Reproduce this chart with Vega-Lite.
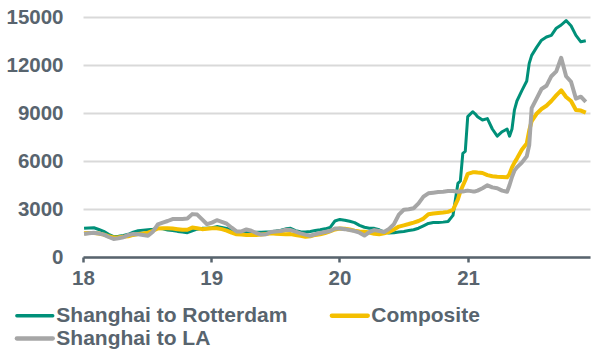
{
  "$schema": "https://vega.github.io/schema/vega-lite/v6.json",
  "width": 507,
  "height": 240,
  "autosize": {"type": "none"},
  "padding": {"left": 83, "top": 17, "right": 2, "bottom": 93},
  "background": "white",
  "config": {"view": {"stroke": null}, "font": "Liberation Sans"},
  "datasets": {
    "rotterdam": [
      {"d":"2018-01-04","v":1790},{"d":"2018-01-18","v":1810},{"d":"2018-02-01","v":1830},{"d":"2018-02-15","v":1720},
      {"d":"2018-03-01","v":1600},{"d":"2018-03-15","v":1420},{"d":"2018-03-29","v":1270},{"d":"2018-04-12","v":1300},
      {"d":"2018-04-26","v":1350},{"d":"2018-05-10","v":1420},{"d":"2018-05-24","v":1550},{"d":"2018-06-07","v":1640},
      {"d":"2018-06-21","v":1680},{"d":"2018-07-05","v":1710},{"d":"2018-07-19","v":1740},{"d":"2018-08-02","v":1790},
      {"d":"2018-08-16","v":1760},{"d":"2018-08-30","v":1690},{"d":"2018-09-13","v":1660},{"d":"2018-09-27","v":1600},
      {"d":"2018-10-11","v":1560},{"d":"2018-10-25","v":1520},{"d":"2018-11-08","v":1640},{"d":"2018-11-22","v":1740},
      {"d":"2018-12-06","v":1790},{"d":"2018-12-20","v":1790},
      {"d":"2019-01-03","v":1830},{"d":"2019-01-17","v":1900},{"d":"2019-01-31","v":1850},{"d":"2019-02-14","v":1780},
      {"d":"2019-02-28","v":1690},{"d":"2019-03-14","v":1560},{"d":"2019-03-28","v":1540},{"d":"2019-04-11","v":1560},
      {"d":"2019-04-25","v":1520},{"d":"2019-05-09","v":1540},{"d":"2019-05-23","v":1540},{"d":"2019-06-06","v":1560},
      {"d":"2019-06-20","v":1580},{"d":"2019-07-04","v":1620},{"d":"2019-07-18","v":1680},{"d":"2019-08-01","v":1760},
      {"d":"2019-08-15","v":1790},{"d":"2019-08-29","v":1650},{"d":"2019-09-12","v":1580},{"d":"2019-09-26","v":1560},
      {"d":"2019-10-10","v":1600},{"d":"2019-10-24","v":1650},{"d":"2019-11-07","v":1700},{"d":"2019-11-21","v":1760},
      {"d":"2019-12-05","v":1840},{"d":"2019-12-19","v":2250},
      {"d":"2020-01-02","v":2350},{"d":"2020-01-16","v":2300},{"d":"2020-01-30","v":2230},{"d":"2020-02-13","v":2150},
      {"d":"2020-02-27","v":1980},{"d":"2020-03-12","v":1860},{"d":"2020-03-26","v":1800},{"d":"2020-04-09","v":1790},
      {"d":"2020-04-23","v":1700},{"d":"2020-05-07","v":1560},{"d":"2020-05-21","v":1500},{"d":"2020-06-04","v":1520},
      {"d":"2020-06-18","v":1560},{"d":"2020-07-02","v":1600},{"d":"2020-07-16","v":1650},{"d":"2020-07-30","v":1700},
      {"d":"2020-08-13","v":1800},{"d":"2020-08-27","v":1950},{"d":"2020-09-10","v":2100},{"d":"2020-09-24","v":2150},
      {"d":"2020-10-08","v":2150},{"d":"2020-10-22","v":2180},{"d":"2020-11-05","v":2220},{"d":"2020-11-19","v":2600},
      {"d":"2020-12-03","v":4600},{"d":"2020-12-10","v":4750},{"d":"2020-12-17","v":6480},{"d":"2020-12-24","v":6600},
      {"d":"2020-12-31","v":8770},
      {"d":"2021-01-14","v":9080},{"d":"2021-01-21","v":8950},{"d":"2021-01-28","v":8770},{"d":"2021-02-11","v":8560},
      {"d":"2021-02-25","v":8650},{"d":"2021-03-11","v":8000},{"d":"2021-03-25","v":7550},{"d":"2021-04-08","v":7830},
      {"d":"2021-04-22","v":8000},{"d":"2021-04-29","v":7550},{"d":"2021-05-06","v":8000},{"d":"2021-05-13","v":9200},
      {"d":"2021-05-20","v":9750},{"d":"2021-06-03","v":10400},{"d":"2021-06-17","v":11000},{"d":"2021-06-24","v":12100},
      {"d":"2021-07-01","v":12600},{"d":"2021-07-15","v":13100},{"d":"2021-07-29","v":13550},{"d":"2021-08-12","v":13750},
      {"d":"2021-08-26","v":13850},{"d":"2021-09-09","v":14300},{"d":"2021-09-23","v":14500},{"d":"2021-10-07","v":14780},
      {"d":"2021-10-21","v":14450},{"d":"2021-11-04","v":13850},{"d":"2021-11-18","v":13450},{"d":"2021-12-02","v":13520}
    ],
    "composite": [
      {"d":"2018-01-04","v":1480},{"d":"2018-01-18","v":1500},{"d":"2018-02-01","v":1500},{"d":"2018-02-15","v":1470},
      {"d":"2018-03-01","v":1400},{"d":"2018-03-15","v":1300},{"d":"2018-03-29","v":1220},{"d":"2018-04-12","v":1230},
      {"d":"2018-04-26","v":1270},{"d":"2018-05-10","v":1300},{"d":"2018-05-24","v":1380},{"d":"2018-06-07","v":1440},
      {"d":"2018-06-21","v":1470},{"d":"2018-07-05","v":1520},{"d":"2018-07-19","v":1640},{"d":"2018-08-02","v":1780},
      {"d":"2018-08-16","v":1790},{"d":"2018-08-30","v":1790},{"d":"2018-09-13","v":1780},{"d":"2018-09-27","v":1740},
      {"d":"2018-10-11","v":1700},{"d":"2018-10-25","v":1700},{"d":"2018-11-08","v":1840},{"d":"2018-11-22","v":1800},
      {"d":"2018-12-06","v":1740},{"d":"2018-12-20","v":1760},
      {"d":"2019-01-03","v":1790},{"d":"2019-01-17","v":1800},{"d":"2019-01-31","v":1740},{"d":"2019-02-14","v":1650},
      {"d":"2019-02-28","v":1520},{"d":"2019-03-14","v":1420},{"d":"2019-03-28","v":1400},{"d":"2019-04-11","v":1380},
      {"d":"2019-04-25","v":1380},{"d":"2019-05-09","v":1380},{"d":"2019-05-23","v":1400},{"d":"2019-06-06","v":1440},
      {"d":"2019-06-20","v":1480},{"d":"2019-07-04","v":1460},{"d":"2019-07-18","v":1440},{"d":"2019-08-01","v":1420},
      {"d":"2019-08-15","v":1430},{"d":"2019-08-29","v":1380},{"d":"2019-09-12","v":1320},{"d":"2019-09-26","v":1270},
      {"d":"2019-10-10","v":1300},{"d":"2019-10-24","v":1380},{"d":"2019-11-07","v":1420},{"d":"2019-11-21","v":1500},
      {"d":"2019-12-05","v":1600},{"d":"2019-12-19","v":1720},
      {"d":"2020-01-02","v":1780},{"d":"2020-01-16","v":1760},{"d":"2020-01-30","v":1720},{"d":"2020-02-13","v":1650},
      {"d":"2020-02-27","v":1600},{"d":"2020-03-12","v":1580},{"d":"2020-03-26","v":1530},{"d":"2020-04-09","v":1450},
      {"d":"2020-04-23","v":1420},{"d":"2020-05-07","v":1480},{"d":"2020-05-21","v":1560},{"d":"2020-06-04","v":1720},
      {"d":"2020-06-18","v":1900},{"d":"2020-07-02","v":1980},{"d":"2020-07-16","v":2060},{"d":"2020-07-30","v":2150},
      {"d":"2020-08-13","v":2250},{"d":"2020-08-27","v":2400},{"d":"2020-09-10","v":2670},{"d":"2020-09-24","v":2720},
      {"d":"2020-10-08","v":2750},{"d":"2020-10-22","v":2780},{"d":"2020-11-05","v":2820},{"d":"2020-11-19","v":2940},
      {"d":"2020-12-03","v":3600},{"d":"2020-12-10","v":4100},{"d":"2020-12-17","v":4450},{"d":"2020-12-24","v":4800},
      {"d":"2020-12-31","v":5200},
      {"d":"2021-01-14","v":5290},{"d":"2021-01-21","v":5300},{"d":"2021-01-28","v":5280},{"d":"2021-02-11","v":5250},
      {"d":"2021-02-25","v":5120},{"d":"2021-03-11","v":5050},{"d":"2021-03-25","v":5020},{"d":"2021-04-08","v":5000},
      {"d":"2021-04-22","v":4980},{"d":"2021-04-29","v":5200},{"d":"2021-05-06","v":5600},{"d":"2021-05-13","v":5900},
      {"d":"2021-05-20","v":6150},{"d":"2021-06-03","v":6700},{"d":"2021-06-17","v":7100},{"d":"2021-06-24","v":7900},
      {"d":"2021-07-01","v":8500},{"d":"2021-07-15","v":8950},{"d":"2021-07-29","v":9250},{"d":"2021-08-12","v":9450},
      {"d":"2021-08-26","v":9750},{"d":"2021-09-09","v":10100},{"d":"2021-09-23","v":10420},{"d":"2021-10-07","v":10000},
      {"d":"2021-10-21","v":9750},{"d":"2021-11-04","v":9190},{"d":"2021-11-18","v":9150},{"d":"2021-12-02","v":9020}
    ],
    "la": [
      {"d":"2018-01-04","v":1440},{"d":"2018-01-18","v":1480},{"d":"2018-02-01","v":1520},{"d":"2018-02-15","v":1470},
      {"d":"2018-03-01","v":1400},{"d":"2018-03-15","v":1250},{"d":"2018-03-29","v":1130},{"d":"2018-04-12","v":1170},
      {"d":"2018-04-26","v":1230},{"d":"2018-05-10","v":1380},{"d":"2018-05-24","v":1440},{"d":"2018-06-07","v":1420},
      {"d":"2018-06-21","v":1380},{"d":"2018-07-05","v":1330},{"d":"2018-07-19","v":1580},{"d":"2018-08-02","v":2040},
      {"d":"2018-08-16","v":2150},{"d":"2018-08-30","v":2250},{"d":"2018-09-13","v":2370},{"d":"2018-09-27","v":2380},
      {"d":"2018-10-11","v":2380},{"d":"2018-10-25","v":2400},{"d":"2018-11-08","v":2680},{"d":"2018-11-22","v":2650},
      {"d":"2018-12-06","v":2350},{"d":"2018-12-20","v":2050},
      {"d":"2019-01-03","v":2150},{"d":"2019-01-17","v":2300},{"d":"2019-01-31","v":2200},{"d":"2019-02-14","v":2080},
      {"d":"2019-02-28","v":1830},{"d":"2019-03-14","v":1600},{"d":"2019-03-28","v":1600},{"d":"2019-04-11","v":1720},
      {"d":"2019-04-25","v":1640},{"d":"2019-05-09","v":1500},{"d":"2019-05-23","v":1400},{"d":"2019-06-06","v":1420},
      {"d":"2019-06-20","v":1560},{"d":"2019-07-04","v":1600},{"d":"2019-07-18","v":1620},{"d":"2019-08-01","v":1700},
      {"d":"2019-08-15","v":1680},{"d":"2019-08-29","v":1580},{"d":"2019-09-12","v":1480},{"d":"2019-09-26","v":1400},
      {"d":"2019-10-10","v":1330},{"d":"2019-10-24","v":1420},{"d":"2019-11-07","v":1500},{"d":"2019-11-21","v":1560},
      {"d":"2019-12-05","v":1620},{"d":"2019-12-19","v":1780},
      {"d":"2020-01-02","v":1780},{"d":"2020-01-16","v":1740},{"d":"2020-01-30","v":1680},{"d":"2020-02-13","v":1620},
      {"d":"2020-02-27","v":1520},{"d":"2020-03-12","v":1340},{"d":"2020-03-26","v":1560},{"d":"2020-04-09","v":1680},
      {"d":"2020-04-23","v":1620},{"d":"2020-05-07","v":1560},{"d":"2020-05-21","v":1760},{"d":"2020-06-04","v":2050},
      {"d":"2020-06-18","v":2650},{"d":"2020-07-02","v":2950},{"d":"2020-07-16","v":2980},{"d":"2020-07-30","v":3050},
      {"d":"2020-08-13","v":3350},{"d":"2020-08-27","v":3770},{"d":"2020-09-10","v":3980},{"d":"2020-09-24","v":4020},
      {"d":"2020-10-08","v":4060},{"d":"2020-10-22","v":4080},{"d":"2020-11-05","v":4120},{"d":"2020-11-19","v":4130},
      {"d":"2020-12-03","v":4080},{"d":"2020-12-10","v":4100},{"d":"2020-12-17","v":4100},{"d":"2020-12-24","v":4120},
      {"d":"2020-12-31","v":4150},
      {"d":"2021-01-14","v":4100},{"d":"2021-01-21","v":4100},{"d":"2021-01-28","v":4150},{"d":"2021-02-11","v":4300},
      {"d":"2021-02-25","v":4480},{"d":"2021-03-11","v":4350},{"d":"2021-03-25","v":4300},{"d":"2021-04-08","v":4150},
      {"d":"2021-04-22","v":4080},{"d":"2021-04-29","v":4500},{"d":"2021-05-06","v":5000},{"d":"2021-05-13","v":5400},
      {"d":"2021-05-20","v":5600},{"d":"2021-06-03","v":5900},{"d":"2021-06-17","v":6300},{"d":"2021-06-24","v":7000},
      {"d":"2021-07-01","v":9300},{"d":"2021-07-15","v":9900},{"d":"2021-07-29","v":10500},{"d":"2021-08-12","v":10700},
      {"d":"2021-08-26","v":11300},{"d":"2021-09-09","v":11600},{"d":"2021-09-23","v":12450},{"d":"2021-10-07","v":11300},
      {"d":"2021-10-21","v":10950},{"d":"2021-11-04","v":9900},{"d":"2021-11-18","v":10020},{"d":"2021-12-02","v":9700}
    ]
  },
  "encoding": {
    "x": {
      "field": "d",
      "type": "temporal",
      "scale": {
        "type": "utc",
        "nice": false,
        "domain": [
          {"year": 2018, "month": 1, "date": 1, "utc": true},
          {"year": 2021, "month": 12, "date": 14, "utc": true}
        ]
      },
      "axis": {
        "title": null,
        "grid": false,
        "values": [
          {"year": 2018, "month": 1, "date": 1, "utc": true},
          {"year": 2019, "month": 1, "date": 1, "utc": true},
          {"year": 2020, "month": 1, "date": 1, "utc": true},
          {"year": 2021, "month": 1, "date": 1, "utc": true}
        ],
        "labelExpr": "utcFormat(datum.value, '%y')",
        "labelFlush": false,
        "labelOverlap": false,
        "domainColor": "#58646E",
        "domainWidth": 2.5,
        "tickColor": "#58646E",
        "tickWidth": 2.5,
        "tickSize": 5,
        "labelFont": "Liberation Sans",
        "labelFontWeight": "bold",
        "labelFontSize": 20.5,
        "labelColor": "#58646E",
        "labelPadding": 6
      }
    },
    "y": {
      "field": "v",
      "type": "quantitative",
      "scale": {"domain": [0, 15000], "nice": false},
      "axis": {
        "title": null,
        "values": [0, 3000, 6000, 9000, 12000, 15000],
        "format": "d",
        "domain": false,
        "ticks": false,
        "tickSize": 0,
        "grid": true,
        "gridColor": "#D9D9D9",
        "gridWidth": 2,
        "labelFont": "Liberation Sans",
        "labelFontWeight": "bold",
        "labelFontSize": 20.5,
        "labelColor": "#58646E",
        "labelPadding": 20
      }
    }
  },
  "layer": [
    {
      "data": {"name": "rotterdam"},
      "mark": {"type": "line", "strokeWidth": 3, "strokeJoin": "round"},
      "encoding": {
        "color": {
          "datum": "Shanghai to Rotterdam",
          "type": "nominal",
          "scale": {
            "domain": ["Shanghai to Rotterdam", "Composite", "Shanghai to LA"],
            "range": ["#009079", "#F4BF00", "#A6A6A6"]
          },
          "legend": {
            "title": null,
            "orient": "none",
            "legendX": -58.7,
            "legendY": 288,
            "direction": "horizontal",
            "columns": 2,
            "columnPadding": 34,
            "rowPadding": 1,
            "symbolType": "M-1.8,0H1.8",
            "symbolSize": 400,
            "symbolStrokeWidth": 4,
            "labelOffset": 11,
            "labelLimit": 400,
            "labelFont": "Liberation Sans",
            "labelFontWeight": "bold",
            "labelFontSize": 21,
            "labelColor": "#58646E",
            "encode": {
              "symbols": {
                "update": {
                  "strokeCap": {"value": "round"},
                  "strokeWidth": {"signal": "datum.value === 'Shanghai to Rotterdam' ? 3.3 : 4.3"}
                }
              }
            }
          }
        }
      }
    },
    {
      "data": {"name": "composite"},
      "mark": {"type": "line", "strokeWidth": 4, "strokeJoin": "round"},
      "encoding": {"color": {"datum": "Composite", "type": "nominal"}}
    },
    {
      "data": {"name": "la"},
      "mark": {"type": "line", "strokeWidth": 4, "strokeJoin": "round"},
      "encoding": {"color": {"datum": "Shanghai to LA", "type": "nominal"}}
    }
  ]
}
